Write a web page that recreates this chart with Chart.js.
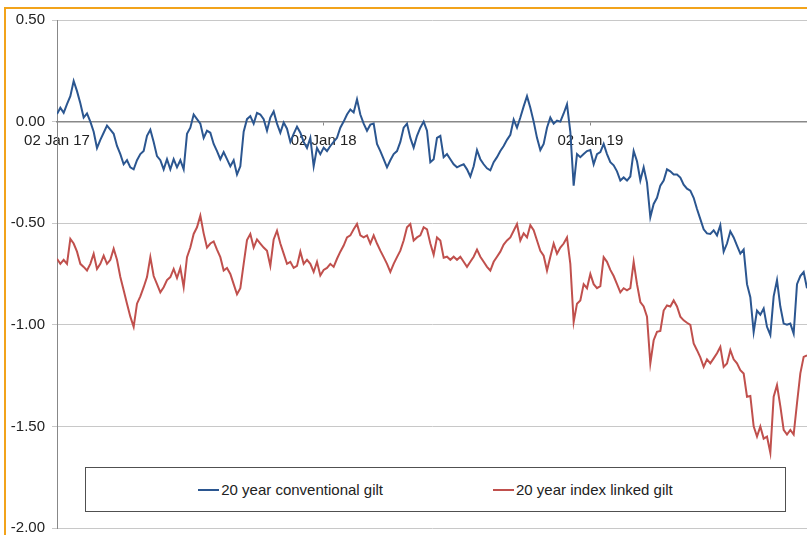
<!DOCTYPE html>
<html>
<head>
<meta charset="utf-8">
<script src="https://cdn.jsdelivr.net/npm/chart.js@4"></script>
<style>
  body { margin: 0; background: #fff; }
  #wrap { position: relative; width: 807px; height: 535px; overflow: hidden; font-family: Arial, "Liberation Sans", sans-serif; }
  #frame { position: absolute; left: 4px; top: 7px; width: 900px; height: 600px; border-left: 2px solid #f2a31b; border-top: 2px solid #f2a31b; }
  #myChart { position: absolute; left: 0; top: 0; }
  #legend { position: absolute; left: 85px; top: 467px; width: 699px; height: 43px; border: 1px solid #505050; background: #fff;
            display: flex; align-items: center; justify-content: center; gap: 110px; font-size: 15px; color: #222; }
  .item { display: flex; align-items: center; }
  .swatch { width: 21px; height: 2px; margin-right: 2px; }
</style>
</head>
<body>
<div id="wrap">
  <div id="frame"></div>
  <canvas id="myChart" width="807" height="544"></canvas>
  <div id="legend"></div>
</div>
<script>
// readings every 1/80 of a year, starting 02 Jan 17
const step = 1 / 80;
const tickLabels = ["02 Jan 17", "02 Jan 18", "02 Jan 19"];

const conventional = [
  0.037, 0.068, 0.043, 0.086, 0.125, 0.20, 0.15, 0.09, 0.02, 0.04,
  0.0, -0.05, -0.13, -0.09, -0.055, -0.02, -0.04, -0.06, -0.12, -0.16,
  -0.21, -0.19, -0.225, -0.235, -0.19, -0.16, -0.145, -0.07, -0.04, -0.10,
  -0.17, -0.19, -0.235, -0.185, -0.235, -0.185, -0.225, -0.19, -0.235, -0.06,
  -0.03, 0.035, 0.012, -0.01, -0.08, -0.045, -0.055, -0.11, -0.145, -0.185,
  -0.15, -0.185, -0.22, -0.19, -0.26, -0.22, -0.05, 0.012, 0.027, -0.01,
  0.043, 0.035, 0.012, -0.045, 0.02, 0.05, -0.01, -0.055, -0.005, -0.035,
  -0.10, -0.06, -0.025, -0.055, -0.10, -0.13, -0.08, -0.22, -0.13, -0.16,
  -0.128, -0.145, -0.12, -0.10, -0.08, -0.03, 0.0, 0.035, 0.06, 0.045,
  0.11, 0.035, -0.01, -0.045, -0.015, -0.01, -0.11, -0.145, -0.185, -0.225,
  -0.19, -0.16, -0.145, -0.10, -0.03, -0.01, -0.08, -0.128, -0.07, -0.03,
  0.0, -0.045, -0.20, -0.185, -0.08, -0.07, -0.175, -0.16, -0.185, -0.21,
  -0.225, -0.217, -0.21, -0.235, -0.27, -0.22, -0.14, -0.185, -0.21, -0.23,
  -0.24, -0.20, -0.175, -0.145, -0.12, -0.09, -0.065, 0.01, -0.03, 0.02,
  0.075, 0.125, 0.068, 0.0, -0.08, -0.14, -0.11, -0.03, 0.02, -0.01,
  0.005, 0.0, 0.04, 0.085, -0.05, -0.315, -0.16, -0.175, -0.16, -0.145,
  -0.14, -0.21, -0.16, -0.15, -0.11, -0.16, -0.2, -0.215, -0.245, -0.29,
  -0.275, -0.29, -0.27, -0.145, -0.195, -0.29, -0.225, -0.30, -0.47, -0.405,
  -0.375, -0.315, -0.29, -0.235, -0.245, -0.26, -0.26, -0.275, -0.31, -0.33,
  -0.34, -0.375, -0.43, -0.48, -0.53, -0.55, -0.553, -0.535, -0.56, -0.51,
  -0.64, -0.60, -0.54, -0.57, -0.61, -0.65, -0.63, -0.80, -0.864, -1.035,
  -0.93, -0.95, -0.92, -1.01, -1.05, -0.86, -0.78, -0.91, -0.994, -1.0,
  -0.994, -1.043, -0.80, -0.76, -0.74, -0.82
];

const indexLinked = [
  -0.675, -0.70, -0.68, -0.70, -0.577, -0.60, -0.64, -0.70, -0.715, -0.733,
  -0.70, -0.65, -0.725, -0.70, -0.66, -0.70, -0.68, -0.626, -0.68, -0.765,
  -0.83, -0.896, -0.96, -1.01, -0.896, -0.86, -0.815, -0.765, -0.667, -0.76,
  -0.80, -0.84, -0.815, -0.78, -0.765, -0.725, -0.77, -0.72, -0.815, -0.667,
  -0.62, -0.553, -0.52, -0.463, -0.55, -0.62, -0.60, -0.59, -0.63, -0.667,
  -0.733, -0.72, -0.75, -0.80, -0.85, -0.82, -0.70, -0.583, -0.553, -0.62,
  -0.58, -0.60, -0.62, -0.636, -0.71, -0.58, -0.537, -0.60, -0.65, -0.70,
  -0.69, -0.72, -0.71, -0.64, -0.70, -0.68, -0.70, -0.74, -0.69, -0.757,
  -0.73, -0.72, -0.70, -0.715, -0.675, -0.64, -0.61, -0.57, -0.56, -0.53,
  -0.504, -0.56, -0.57, -0.56, -0.60, -0.56, -0.60, -0.635, -0.667, -0.70,
  -0.74, -0.70, -0.667, -0.635, -0.585, -0.52, -0.504, -0.585, -0.57, -0.56,
  -0.52, -0.53, -0.60, -0.655, -0.57, -0.585, -0.67, -0.665, -0.68, -0.665,
  -0.68, -0.665, -0.69, -0.715, -0.69, -0.665, -0.63, -0.665, -0.69, -0.715,
  -0.733, -0.69, -0.665, -0.64, -0.605, -0.585, -0.57, -0.537, -0.504, -0.585,
  -0.55, -0.57, -0.51, -0.535, -0.585, -0.636, -0.66, -0.733, -0.665, -0.60,
  -0.65, -0.62, -0.60, -0.57, -0.70, -0.986, -0.896, -0.88, -0.80, -0.82,
  -0.75, -0.80, -0.82, -0.81, -0.667, -0.69, -0.73, -0.76, -0.80, -0.84,
  -0.82, -0.83, -0.82, -0.69, -0.80, -0.888, -0.91, -0.96, -1.19, -1.076,
  -1.035, -1.03, -0.93, -0.905, -0.91, -0.88, -0.91, -0.96, -0.978, -0.99,
  -1.0, -1.092, -1.125, -1.16, -1.207, -1.17, -1.19, -1.165, -1.14, -1.109,
  -1.207, -1.19, -1.125, -1.17, -1.19, -1.223, -1.24, -1.354, -1.35, -1.50,
  -1.55, -1.50, -1.56, -1.55, -1.63, -1.354, -1.297, -1.40, -1.517, -1.54,
  -1.517, -1.54, -1.386, -1.239, -1.158, -1.15
];

const seriesNames = ["20 year conventional gilt", "20 year index linked gilt"];
const seriesColors = ["#2b5690", "#c0504d"];

function toPoints(values) {
  return values.map((v, i) => ({ x: i * step, y: v }));
}

const ctx = document.getElementById("myChart");
const chart = new Chart(ctx, {
  type: "line",
  data: {
    datasets: [conventional, indexLinked].map((vals, i) => ({
      label: seriesNames[i],
      data: toPoints(vals),
      borderColor: seriesColors[i],
      borderWidth: 2,
      pointRadius: 0,
      tension: 0,
    })),
  },
  options: {
    responsive: false,
    animation: false,
    events: [],
    layout: { padding: { top: 20, right: 0, bottom: 0, left: 0 } },
    plugins: { legend: { display: false }, tooltip: { enabled: false } },
    scales: {
      x: {
        type: "linear",
        position: { y: 0 },
        min: 0,
        max: (conventional.length - 1) * step,
        afterBuildTicks: (scale) => {
          scale.ticks = tickLabels.map((t, i) => ({ value: i }));
        },
        ticks: {
          autoSkip: false,
          maxRotation: 0,
          padding: 7,
          color: "#222",
          font: { family: "Arial, 'Liberation Sans'", size: 15 },
          callback: (v, i) => tickLabels[i],
        },
        grid: { drawOnChartArea: false, tickLength: 3, color: "#888" },
        border: { color: "#888", width: 1.5 },
      },
      y: {
        min: -2,
        max: 0.5,
        afterFit: (scale) => { scale.width = 57; },
        ticks: {
          stepSize: 0.5,
          padding: 7,
          color: "#222",
          font: { family: "Arial, 'Liberation Sans'", size: 15 },
          callback: (v) => v.toFixed(2),
        },
        grid: { color: "#c8c8c8", tickLength: 5 },
        border: { color: "#888" },
      },
    },
  },
});

// legend box inside the plot
const legend = document.getElementById("legend");
seriesNames.forEach((name, i) => {
  const item = document.createElement("div");
  item.className = "item";
  const sw = document.createElement("span");
  sw.className = "swatch";
  sw.style.background = seriesColors[i];
  item.appendChild(sw);
  const txt = document.createElement("span");
  txt.textContent = name;
  item.appendChild(txt);
  legend.appendChild(item);
});
</script>
</body>
</html>
